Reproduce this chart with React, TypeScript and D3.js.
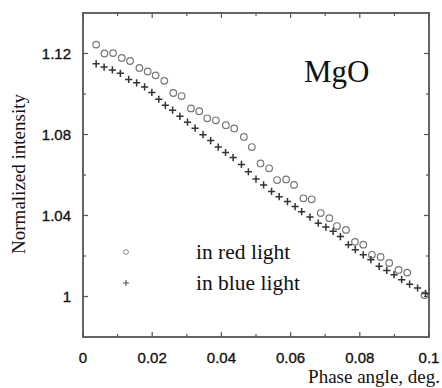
import * as d3 from "d3";

const W = 442;
const H = 388;
const M = { top: 13, right: 13, bottom: 51, left: 83 };

// phase angle (deg) / normalized intensity, red light (circles)
const redPhase = [
	0.0038, 0.0062, 0.0087, 0.0112, 0.0136, 0.0163, 0.0187, 0.021, 0.0235, 0.0261,
	0.0285, 0.0312, 0.0336, 0.0359, 0.0384, 0.0413, 0.0437, 0.0465, 0.0488, 0.0513,
	0.0538, 0.0561, 0.0587, 0.061, 0.0637, 0.0661, 0.0687, 0.0712, 0.0734, 0.076,
	0.0786, 0.081, 0.0835, 0.086, 0.0885, 0.0912, 0.0937, 0.0987,
];
const redIntensity = [
	1.1244, 1.12, 1.1202, 1.1178, 1.1163, 1.1129, 1.1111, 1.1092, 1.1065, 1.1005,
	1.099, 1.0929, 1.0915, 1.088, 1.087, 1.0846, 1.083, 1.0788, 1.0738, 1.0657,
	1.0633, 1.0575, 1.0578, 1.0551, 1.0485, 1.048, 1.0412, 1.0387, 1.0348, 1.0329,
	1.027, 1.0256, 1.0206, 1.0195, 1.0166, 1.0131, 1.0118, 1.0007,
];

// blue light (crosses)
const bluePhase = [
	0.0038, 0.0061, 0.0085, 0.0108, 0.0132, 0.0155, 0.0178, 0.0199, 0.0219, 0.0238,
	0.0259, 0.028, 0.0302, 0.0324, 0.0347, 0.0369, 0.0391, 0.0412, 0.0434, 0.0458,
	0.0478, 0.05, 0.0522, 0.0545, 0.0567, 0.0591, 0.0613, 0.0632, 0.0656, 0.068,
	0.0702, 0.0723, 0.0744, 0.0767, 0.0787, 0.081, 0.0832, 0.0856, 0.0878, 0.0899,
	0.0921, 0.0944, 0.0967, 0.099,
];
const blueIntensity = [
	1.1149, 1.1133, 1.1119, 1.1102, 1.1072, 1.1055, 1.1035, 1.1008, 1.0974, 1.0944,
	1.092, 1.089, 1.0861, 1.0831, 1.0799, 1.077, 1.0738, 1.0711, 1.0686, 1.0652,
	1.0616, 1.058, 1.0551, 1.0519, 1.0493, 1.0469, 1.0444, 1.0419, 1.0392, 1.0362,
	1.0343, 1.0322, 1.0296, 1.0256, 1.0231, 1.0206, 1.0182, 1.0149, 1.0129, 1.0108,
	1.0083, 1.0061, 1.0042, 1.0015,
];

const xMajor = [0, 0.02, 0.04, 0.06, 0.08, 0.1];
const xLabels = ["0", "0.02", "0.04", "0.06", "0.08", "0.1"];
const xMinor = [0.01, 0.03, 0.05, 0.07, 0.09];
const yMajor = [1, 1.04, 1.08, 1.12];
const yLabels = ["1", "1.04", "1.08", "1.12"];
const yMinor = [1.02, 1.06, 1.1];

const SANS = "'Liberation Sans', Arial, sans-serif";
const SERIF = "'Liberation Serif', 'Times New Roman', serif";
const FRAME = "#555";

export default function App() {
	const x = d3.scaleLinear().domain([0, 0.1]).range([M.left, W - M.right]);
	const y = d3.scaleLinear().domain([0.98, 1.14]).range([H - M.bottom, M.top]);
	const [x0, x1] = x.range();
	const [yb, yt] = y.range();

	const red = redPhase.map((p, i) => [p, redIntensity[i]]);
	const blue = bluePhase.map((p, i) => [p, blueIntensity[i]]);

	const cross = (cx: number, cy: number, s: number) =>
		`M${cx - s},${cy}H${cx + s}M${cx},${cy - s}V${cy + s}`;

	return (
		<div style={{ position: "absolute", left: 0, top: 0 }}>
			<svg width={W} height={H} style={{ display: "block", background: "#fff" }}>
				{/* ticks, all four sides, pointing in */}
				<g stroke={FRAME} strokeWidth={1.2}>
					{xMajor.map((t) => (
						<g key={`xm${t}`}>
							<line x1={x(t)} x2={x(t)} y1={yb} y2={yb - 5} />
							<line x1={x(t)} x2={x(t)} y1={yt} y2={yt + 5} />
						</g>
					))}
					{xMinor.map((t) => (
						<g key={`xn${t}`}>
							<line x1={x(t)} x2={x(t)} y1={yb} y2={yb - 3} />
							<line x1={x(t)} x2={x(t)} y1={yt} y2={yt + 3} />
						</g>
					))}
					{yMajor.map((t) => (
						<g key={`ym${t}`}>
							<line x1={x0} x2={x0 + 5} y1={y(t)} y2={y(t)} />
							<line x1={x1} x2={x1 - 5} y1={y(t)} y2={y(t)} />
						</g>
					))}
					{yMinor.map((t) => (
						<g key={`yn${t}`}>
							<line x1={x0} x2={x0 + 3} y1={y(t)} y2={y(t)} />
							<line x1={x1} x2={x1 - 3} y1={y(t)} y2={y(t)} />
						</g>
					))}
				</g>
				<rect x={x0} y={yt} width={x1 - x0} height={yb - yt} fill="none" stroke={FRAME} strokeWidth={1.8} />

				{/* tick labels */}
				<g fontFamily={SANS} fontSize={15} fill="#111" stroke="#111" strokeWidth={0.35}>
					{xMajor.map((t, i) => (
						<text key={`xl${t}`} x={x(t)} y={363} textAnchor="middle">
							{xLabels[i]}
						</text>
					))}
					{yMajor.map((t, i) => (
						<text key={`yl${t}`} x={71} y={y(t)} dy="0.36em" textAnchor="end">
							{yLabels[i]}
						</text>
					))}
				</g>

				{/* axis titles */}
				<text x={440} y={383} textAnchor="end" fontFamily={SERIF} fontSize={19} fill="#111">
					Phase angle, deg.
				</text>
				<text
					transform="translate(25,174) rotate(-90)"
					textAnchor="middle"
					fontFamily={SERIF}
					fontSize={19}
					fill="#111"
				>
					Normalized intensity
				</text>

				<text x={304} y={82} fontFamily={SERIF} fontSize={31} fill="#111">
					MgO
				</text>

				{/* data */}
				<g fill="none" stroke="#777" strokeWidth={1.2}>
					{red.map(([p, v], i) => (
						<circle key={`r${i}`} cx={x(p)} cy={y(v)} r={3.3} />
					))}
				</g>
				<g stroke="#333" strokeWidth={1.5}>
					{blue.map(([p, v], i) => (
						<path key={`b${i}`} d={cross(x(p), y(v), 3.6)} />
					))}
				</g>

				{/* legend */}
				<circle cx={126} cy={252} r={2.4} fill="none" stroke="#888" strokeWidth={1} />
				<path d={cross(126, 283, 3)} stroke="#555" strokeWidth={1.1} />
				<g fontFamily={SERIF} fontSize={21.5} fill="#111">
					<text x={196} y={259}>in red light</text>
					<text x={196} y={290}>in blue light</text>
				</g>
			</svg>
		</div>
	);
}
